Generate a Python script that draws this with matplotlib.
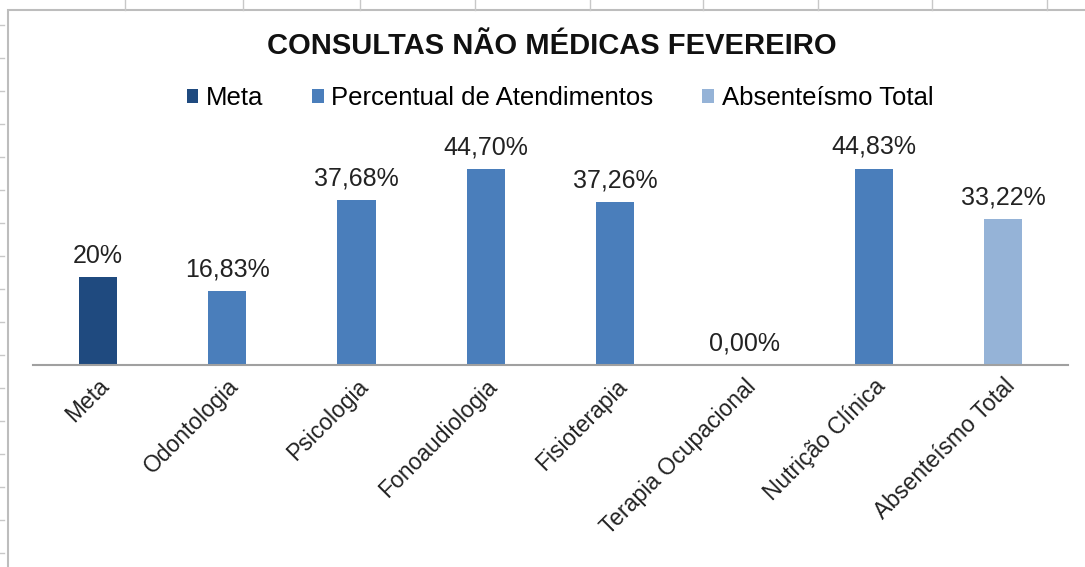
import matplotlib
matplotlib.use("Agg")
import matplotlib.pyplot as plt
from matplotlib.patches import Patch, Rectangle
from matplotlib.lines import Line2D

plt.rcParams['font.family'] = ['Liberation Sans', 'DejaVu Sans']

categories = ["Meta", "Odontologia", "Psicologia", "Fonoaudiologia", "Fisioterapia",
              "Terapia Ocupacional", "Nutrição Clínica", "Absenteísmo Total"]
values = [20.0, 16.83, 37.68, 44.70, 37.26, 0.00, 44.83, 33.22]
value_labels = ["20%", "16,83%", "37,68%", "44,70%", "37,26%", "0,00%", "44,83%", "33,22%"]
series = ["Meta", "Percentual de Atendimentos", "Percentual de Atendimentos",
          "Percentual de Atendimentos", "Percentual de Atendimentos",
          "Percentual de Atendimentos", "Percentual de Atendimentos", "Absenteísmo Total"]
legend_names = ["Meta", "Percentual de Atendimentos", "Absenteísmo Total"]
colors = {"Meta": "#1f4a7f", "Percentual de Atendimentos": "#4a7ebb", "Absenteísmo Total": "#95b3d7"}

W, H = 1085, 567
fig = plt.figure(figsize=(W / 100, H / 100), dpi=100)

# spreadsheet context: cell grid lines above chart and row ticks at left
for xp in [125, 243, 360, 475, 590, 703, 818, 932, 1047]:
    fig.add_artist(Line2D([xp / W, xp / W], [1, 1 - 10 / H], color="#c8c8c8", lw=1))
for yp in range(25, 567, 33):
    fig.add_artist(Line2D([0, 4 / W], [1 - yp / H, 1 - yp / H], color="#c8c8c8", lw=1))
fig.add_artist(Rectangle((8 / W, -0.01), 1.1, 1 - 10 / H + 0.01, transform=fig.transFigure,
                         fill=False, edgecolor="#bdbdbd", lw=1.5))

ax = fig.add_axes([33 / W, 1 - 365 / H, (1068 - 33) / W, 219 / H])
x = list(range(len(categories)))
bar_colors = [colors[s] for s in series]
bars = ax.bar(x, values, width=0.295, color=bar_colors)
ax.set_xlim(-0.5, len(categories) - 0.5)
ax.set_ylim(0, 50)
for xi, v, lab in zip(x, values, value_labels):
    ax.annotate(lab, (xi, v), xytext=(0, 7), textcoords="offset points",
                ha="center", va="bottom", fontsize=18, color="#222222")

for s in ["top", "right", "left"]:
    ax.spines[s].set_visible(False)
ax.spines["bottom"].set_color("#a0a0a0")
ax.spines["bottom"].set_linewidth(1.5)
ax.set_yticks([])
ax.set_xticks(x)
ax.set_xticklabels(categories, rotation=45, ha="right", rotation_mode="anchor",
                   fontsize=16.5, color="#222222")
ax.tick_params(axis="x", length=0, pad=7)

fig.text(552 / W, 1 - 46 / H, "CONSULTAS NÃO MÉDICAS FEVEREIRO", ha="center", va="center",
         fontsize=21, fontweight="bold", color="#111111")

handles = [Patch(facecolor=colors[n], edgecolor="none") for n in legend_names]
fig.legend(handles, legend_names, loc="center", bbox_to_anchor=(560 / W, 1 - 98 / H),
           ncol=3, frameon=False, fontsize=18.5, handlelength=0.45, handleheight=0.45,
           handletextpad=0.3, columnspacing=1.9)

fig.savefig("out.png", dpi=100, facecolor="white")
